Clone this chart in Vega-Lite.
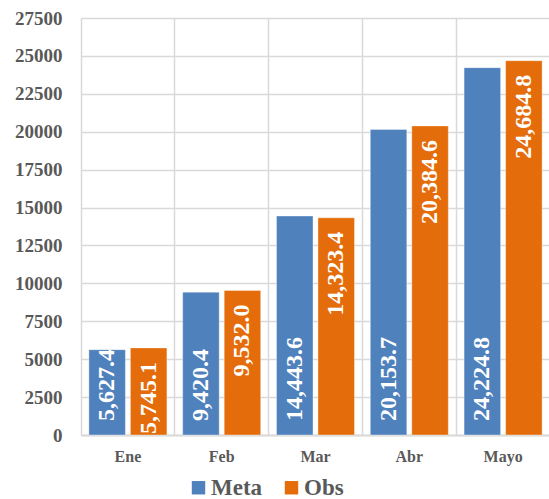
{
  "$schema": "https://vega.github.io/schema/vega-lite/v6.json",
  "autosize": {"type": "none"},
  "padding": {"left": 81, "top": 18, "right": 0, "bottom": 64},
  "width": 469,
  "height": 417,
  "background": "white",
  "data": {"values": [
    {"mes": "Ene", "serie": "Meta", "valor": 5627.4},
    {"mes": "Ene", "serie": "Obs", "valor": 5745.1},
    {"mes": "Feb", "serie": "Meta", "valor": 9420.4},
    {"mes": "Feb", "serie": "Obs", "valor": 9532.0},
    {"mes": "Mar", "serie": "Meta", "valor": 14443.6},
    {"mes": "Mar", "serie": "Obs", "valor": 14323.4},
    {"mes": "Abr", "serie": "Meta", "valor": 20153.7},
    {"mes": "Abr", "serie": "Obs", "valor": 20384.6},
    {"mes": "Mayo", "serie": "Meta", "valor": 24224.8},
    {"mes": "Mayo", "serie": "Obs", "valor": 24684.8}
  ]},
  "config": {
    "view": {"stroke": null},
    "font": "Liberation Serif"
  },
  "encoding": {
    "x": {
      "field": "mes", "type": "nominal", "sort": ["Ene", "Feb", "Mar", "Abr", "Mayo"],
      "scale": {"paddingInner": 0, "paddingOuter": 0},
      "axis": {
        "title": null, "labelAngle": 0, "labelFont": "Liberation Serif", "labelFontWeight": "bold",
        "labelFontSize": 16, "labelColor": "#595959", "labelPadding": 13,
        "ticks": false, "domainColor": "#D9D9D9", "domainWidth": 2,
        "grid": true, "gridColor": "#D9D9D9", "gridWidth": 1.5, "bandPosition": 0
      }
    },
    "xOffset": {"field": "serie", "type": "nominal", "scale": {"paddingInner": 0.12, "paddingOuter": 0.19}},
    "y": {
      "field": "valor", "type": "quantitative",
      "scale": {"domain": [0, 27500], "nice": false},
      "axis": {
        "title": null, "values": [0, 2500, 5000, 7500, 10000, 12500, 15000, 17500, 20000, 22500, 25000, 27500],
        "format": "d", "labelFont": "Liberation Serif", "labelFontWeight": "bold", "labelFontSize": 19,
        "labelColor": "#595959", "labelPadding": 19, "ticks": false, "domain": false,
        "grid": true, "gridColor": "#D9D9D9", "gridWidth": 1.5
      }
    }
  },
  "layer": [
    {
      "mark": {"type": "bar", "stroke": "#ffffff", "strokeOpacity": 0.5, "strokeWidth": 0.75},
      "encoding": {
        "color": {
          "field": "serie", "type": "nominal",
          "scale": {"domain": ["Meta", "Obs"], "range": ["#4F81BD", "#E46C0A"]},
          "legend": {
            "title": null, "orient": "none", "direction": "horizontal",
            "legendX": 106, "legendY": 458, "symbolType": "square", "symbolSize": 180,
            "symbolStrokeWidth": 0, "labelFont": "Liberation Serif", "labelFontWeight": "bold",
            "labelFontSize": 23, "labelColor": "#595959", "columnPadding": 17, "labelOffset": 1, "padding": 0
          }
        }
      }
    },
    {
      "transform": [{"filter": "datum.serie === 'Meta'"}],
      "mark": {"type": "text", "angle": -90, "align": "left", "baseline": "middle", "dx": 14,
               "color": "white", "fontWeight": "bold", "fontSize": 24, "font": "Liberation Serif"},
      "encoding": {
        "y": {"datum": 0, "type": "quantitative"},
        "text": {"field": "valor", "type": "quantitative", "format": ",.1f"}
      }
    },
    {
      "transform": [{"filter": "datum.serie === 'Obs'"}],
      "mark": {"type": "text", "angle": -90, "align": "right", "baseline": "middle", "dx": -14,
               "color": "white", "fontWeight": "bold", "fontSize": 24, "font": "Liberation Serif"},
      "encoding": {
        "text": {"field": "valor", "type": "quantitative", "format": ",.1f"}
      }
    }
  ]
}
